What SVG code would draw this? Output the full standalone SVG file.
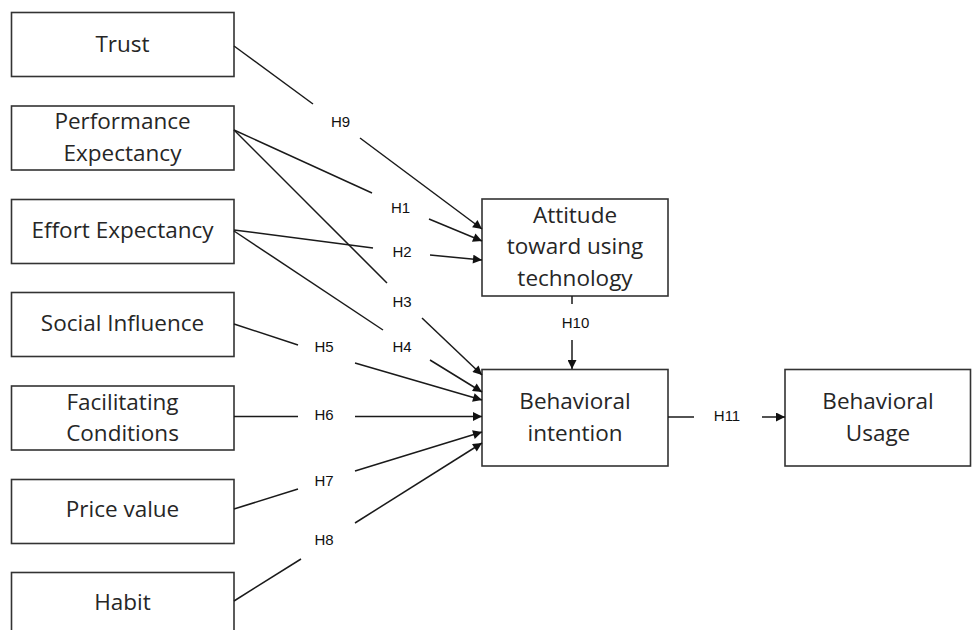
<svg xmlns="http://www.w3.org/2000/svg" width="973" height="630" viewBox="0 0 973 630">
<defs>
<style>
.box{fill:#fff;stroke:#333;stroke-width:1.6}
.t{font-family:"Open Sans","Liberation Sans",sans-serif;font-size:22.5px;fill:#262626;text-anchor:middle}
.h{font-family:"Liberation Sans",Arial,sans-serif;font-size:15px;fill:#111;text-anchor:middle}
.c{stroke:#1a1a1a;stroke-width:1.5;fill:none}
.a{marker-end:url(#arr)}
</style>
<marker id="arr" viewBox="0 0 10 10" refX="10" refY="5" markerWidth="11" markerHeight="9" markerUnits="userSpaceOnUse" orient="auto">
<path d="M0,0 L10,5 L0,10 z" fill="#111"/>
</marker>
</defs>
<rect width="973" height="630" fill="#fff"/>
<g id="trust"><rect class="box" x="11.5" y="12.5" width="222.5" height="64"/><text class="t" x="122.5" y="52">Trust</text></g>
<g id="performance"><rect class="box" x="11.5" y="106" width="222.5" height="64"/><text class="t" x="122.5" y="129">Performance</text><text class="t" x="122.5" y="161">Expectancy</text></g>
<g id="effort"><rect class="box" x="11.5" y="199.5" width="222.5" height="64"/><text class="t" x="122.5" y="238">Effort Expectancy</text></g>
<g id="social"><rect class="box" x="11.5" y="292.5" width="222.5" height="64"/><text class="t" x="122.5" y="331">Social Influence</text></g>
<g id="facilitating"><rect class="box" x="11.5" y="386" width="222.5" height="64"/><text class="t" x="122.5" y="409.5">Facilitating</text><text class="t" x="122.5" y="441">Conditions</text></g>
<g id="price"><rect class="box" x="11.5" y="479.5" width="222.5" height="64"/><text class="t" x="122.5" y="517">Price value</text></g>
<g id="habit"><rect class="box" x="11.5" y="572.5" width="222.5" height="80"/><text class="t" x="122.5" y="610">Habit</text></g>
<g id="attitude"><rect class="box" x="482" y="199" width="186" height="97"/><text class="t" x="575" y="222.5">Attitude</text><text class="t" x="575" y="254">toward using</text><text class="t" x="575" y="286">technology</text></g>
<g id="intention"><rect class="box" x="482" y="369.5" width="186" height="96.5"/><text class="t" x="575" y="409">Behavioral</text><text class="t" x="575" y="440.5">intention</text></g>
<g id="usage"><rect class="box" x="785" y="369.5" width="185.5" height="96.5"/><text class="t" x="878" y="409">Behavioral</text><text class="t" x="878" y="440.5">Usage</text></g>
<g id="connectors">
<line class="c" x1="234" y1="46" x2="313" y2="104"/>
<line class="c a" x1="360" y1="138" x2="482" y2="229"/>
<line class="c" x1="234" y1="130" x2="372" y2="193"/>
<line class="c a" x1="429" y1="219" x2="482" y2="241"/>
<line class="c" x1="234" y1="230" x2="373" y2="248"/>
<line class="c a" x1="430" y1="255" x2="482" y2="260"/>
<line class="c" x1="234" y1="130" x2="387" y2="283"/>
<line class="c a" x1="422" y1="318" x2="482" y2="375"/>
<line class="c" x1="234" y1="231" x2="383" y2="330"/>
<line class="c a" x1="430" y1="360" x2="482" y2="392"/>
<line class="c" x1="234" y1="324" x2="298" y2="345"/>
<line class="c a" x1="355" y1="363" x2="482" y2="400"/>
<line class="c" x1="234" y1="416.5" x2="298" y2="416.5"/>
<line class="c a" x1="355" y1="416.5" x2="482" y2="416.5"/>
<line class="c" x1="234" y1="509" x2="298" y2="489"/>
<line class="c a" x1="355" y1="471" x2="482" y2="432"/>
<line class="c" x1="234" y1="601" x2="301" y2="559"/>
<line class="c a" x1="355" y1="523" x2="482" y2="443"/>
<line class="c" x1="572" y1="296" x2="572" y2="304"/>
<line class="c a" x1="572" y1="340" x2="572" y2="369"/>
<line class="c" x1="668" y1="417" x2="694" y2="417"/>
<line class="c a" x1="762" y1="417" x2="785" y2="417"/>
<text class="h" x="340.5" y="126.5">H9</text>
<text class="h" x="400.5" y="213">H1</text>
<text class="h" x="402" y="256.5">H2</text>
<text class="h" x="402" y="306.5">H3</text>
<text class="h" x="402" y="351.5">H4</text>
<text class="h" x="324" y="351.5">H5</text>
<text class="h" x="324" y="419.5">H6</text>
<text class="h" x="324" y="486">H7</text>
<text class="h" x="324" y="545">H8</text>
<text class="h" x="575.5" y="327.5">H10</text>
<text class="h" x="727" y="421">H11</text>
</g>
</svg>
